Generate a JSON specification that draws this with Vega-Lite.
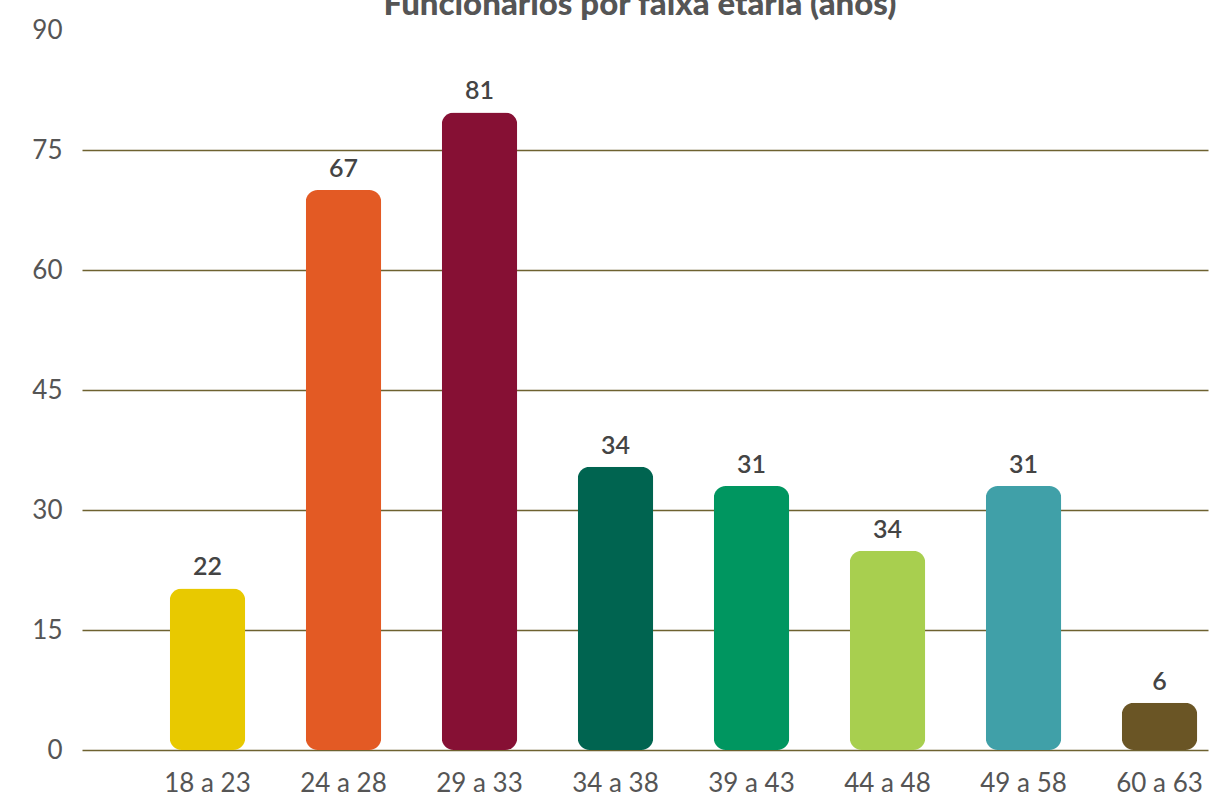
{
  "$schema": "https://vega.github.io/schema/vega-lite/v6.json",
  "width": 1126,
  "height": 720,
  "autosize": {"type": "none"},
  "padding": {"left": 82, "top": 30, "right": 2, "bottom": 46},
  "background": "white",
  "config": {"view": {"stroke": null}},
  "title": {
    "text": "Funcionários por faixa etária (anos)",
    "font": "Lato",
    "fontSize": 33,
    "fontWeight": 900,
    "color": "#555555",
    "anchor": "middle",
    "frame": "group",
    "baseline": "alphabetic",
    "offset": -31,
    "dx": -5
  },
  "data": {
    "values": [
      {"faixa": "18 a 23", "altura": 20.2, "rotulo": "22", "cor": "#E8C900"},
      {"faixa": "24 a 28", "altura": 70, "rotulo": "67", "cor": "#E35A24"},
      {"faixa": "29 a 33", "altura": 79.7, "rotulo": "81", "cor": "#861034"},
      {"faixa": "34 a 38", "altura": 35.4, "rotulo": "34", "cor": "#006450"},
      {"faixa": "39 a 43", "altura": 33, "rotulo": "31", "cor": "#009660"},
      {"faixa": "44 a 48", "altura": 24.9, "rotulo": "34", "cor": "#A8CF4F"},
      {"faixa": "49 a 58", "altura": 33, "rotulo": "31", "cor": "#40A0A8"},
      {"faixa": "60 a 63", "altura": 5.9, "rotulo": "6", "cor": "#6A5525"}
    ]
  },
  "encoding": {
    "x": {
      "field": "faixa",
      "type": "nominal",
      "sort": null,
      "scale": {"paddingInner": 0.445, "paddingOuter": 0.362, "align": 0.891},
      "axis": {
        "title": null,
        "domain": false,
        "ticks": false,
        "labelAngle": 0,
        "labelFont": "Lato",
        "labelFontSize": 26,
        "labelColor": "#555555",
        "labelBaseline": "alphabetic",
        "labelPadding": 41
      }
    }
  },
  "layer": [
    {
      "mark": {"type": "bar", "cornerRadius": 12},
      "encoding": {
        "y": {
          "field": "altura",
          "type": "quantitative",
          "scale": {"domain": [0, 90], "nice": false},
          "axis": {
            "title": null,
            "values": [0, 15, 30, 45, 60, 75, 90],
            "domain": false,
            "ticks": false,
            "labelFont": "Lato",
            "labelFontSize": 26,
            "labelColor": "#555555",
            "labelPadding": 20,
            "gridColor": {"condition": {"test": "datum.value >= 90", "value": "transparent"}, "value": "#6E6230"},
            "gridWidth": 1.5,
            "gridOpacity": 1
          }
        },
        "color": {"field": "cor", "type": "nominal", "scale": null, "legend": null}
      }
    },
    {
      "mark": {"type": "text", "baseline": "alphabetic", "dy": -13, "font": "Lato", "fontSize": 25, "fontWeight": 600, "color": "#444444"},
      "encoding": {
        "y": {"field": "altura", "type": "quantitative"},
        "text": {"field": "rotulo"}
      }
    },
    {
      "mark": {"type": "rule", "color": "#6A5525", "strokeWidth": 3},
      "encoding": {"y": {"datum": 0}}
    }
  ]
}
